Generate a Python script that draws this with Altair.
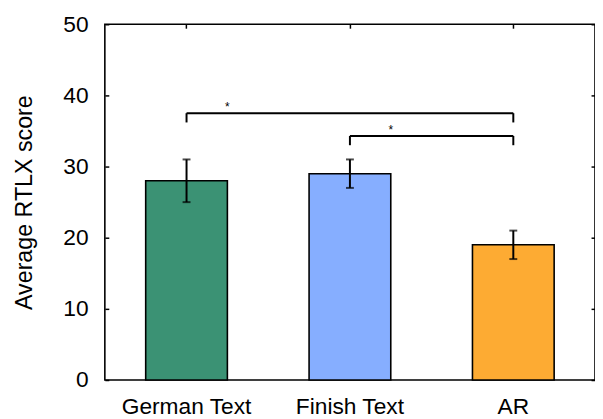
import altair as alt
import pandas as pd

categories = ["German Text", "Finish Text", "AR"]
means = [28, 29, 19]
err_low = [25, 27, 17]
err_high = [31, 31, 21]
colors = ["#3b9274", "#86aeff", "#fdab33"]

# significance brackets
br_from = ["German Text", "Finish Text"]
br_to = ["AR", "AR"]
br_y = [37.5, 34.3]
br_tip = [36.2, 33.0]
br_star_y = [38.4, 35.2]

bars = pd.DataFrame({"cat": categories, "mean": means, "lo": err_low, "hi": err_high})
brackets = pd.DataFrame({"a": br_from, "b": br_to, "y": br_y, "tip": br_tip, "sy": br_star_y})
tips = pd.DataFrame({
    "cat": br_from + br_to,
    "y": br_y + br_y,
    "tip": br_tip + br_tip,
})

FONT = "Liberation Sans"

xscale = alt.Scale(domain=categories, paddingInner=0.5, paddingOuter=0.25)
yscale = alt.Scale(domain=[0, 50], nice=False)
X = lambda f: alt.X(f, scale=xscale, sort=categories, axis=None)
Y = lambda f: alt.Y(f, scale=yscale, axis=None)

base = alt.Chart(bars)

bar = base.mark_bar(stroke="black", strokeWidth=1.6).encode(
    x=alt.X("cat:N", scale=xscale, sort=categories,
            axis=alt.Axis(title=None, labelAngle=0, ticks=False, domain=False,
                          labelFontSize=23, labelFont=FONT, labelColor="black",
                          labelPadding=16)),
    y=alt.Y("mean:Q", scale=yscale,
            axis=alt.Axis(title="Average RTLX score", values=[0, 10, 20, 30, 40, 50],
                          domain=False, grid=False, tickSize=4, offset=-4,
                          tickColor="black", tickWidth=1.5,
                          labelFontSize=23, labelFont=FONT, labelColor="black",
                          labelPadding=17, titleFontSize=23.5, titleFont=FONT,
                          titleFontWeight="normal", titleColor="black", titlePadding=27)),
    color=alt.Color("cat:N", scale=alt.Scale(domain=categories, range=colors), legend=None),
)

err = base.mark_rule(color="black", strokeWidth=2).encode(
    x=X("cat:N"), y=Y("lo:Q"), y2="hi:Q",
)
cap_lo = base.mark_tick(color="black", thickness=2, size=8, orient="horizontal").encode(
    x=X("cat:N"), y=Y("lo:Q"),
)
cap_hi = base.mark_tick(color="black", thickness=2, size=8, orient="horizontal").encode(
    x=X("cat:N"), y=Y("hi:Q"),
)

hline = alt.Chart(brackets).mark_rule(color="black", strokeWidth=2).encode(
    x=X("a:N"), x2="b:N", y=Y("y:Q"),
)
vtips = alt.Chart(tips).mark_rule(color="black", strokeWidth=2).encode(
    x=X("cat:N"), y=Y("y:Q"), y2="tip:Q",
)
star = alt.Chart(brackets).mark_text(text="*", fontSize=12, font=FONT, color="black",
                                     baseline="middle").encode(
    x=alt.X("a:N", scale=xscale, sort=categories, axis=None, bandPosition=1.0),
    y=Y("sy:Q"),
)

# right and top mirrored inward ticks
mirror = alt.Chart(bars).mark_point(opacity=0).encode(
    y=alt.Y("mean:Q", scale=yscale,
            axis=alt.Axis(orient="right", title=None, values=[0, 10, 20, 30, 40, 50],
                          labels=False, domain=False, grid=False, tickSize=4, offset=-4,
                          tickColor="black", tickWidth=1.5)),
    x=alt.X("cat:N", scale=xscale, sort=categories,
            axis=alt.Axis(orient="top", title=None, labels=False, domain=False,
                          grid=False, tickSize=4, offset=-4, tickColor="black",
                          tickWidth=1.5)),
)

chart = alt.layer(bar, err, cap_lo, cap_hi, hline, vtips, star, mirror).resolve_axis(
    x="independent", y="independent"
).properties(
    width=496, height=360,
    background="white",
    autosize=alt.AutoSizeParams(type="none"),
    padding={"left": 98, "top": 14, "right": 0, "bottom": 37},
).configure_view(stroke="black", strokeWidth=1.6)

chart.save("out.html", embed_options={"renderer": "svg", "actions": False})
